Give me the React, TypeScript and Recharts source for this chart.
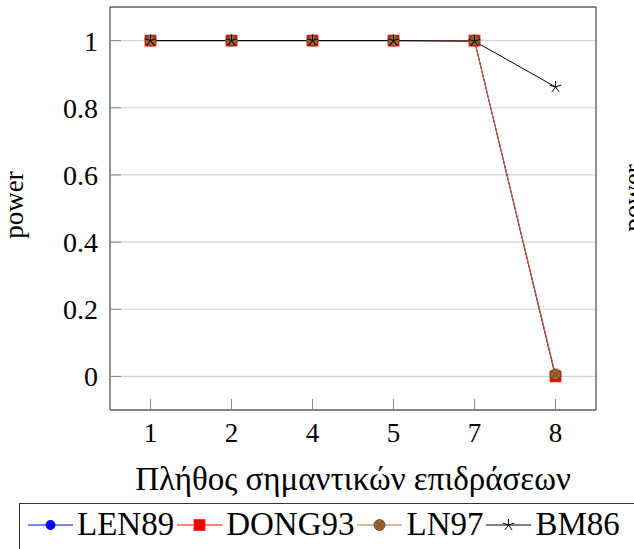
import { LineChart, Line, XAxis, YAxis, CartesianGrid } from 'recharts'

const categories = ['1', '2', '4', '5', '7', '8']
const len89 = [1, 1, 1, 1, 1, 0]
const dong93 = [1, 1, 1, 1, 1, 0]
const ln97 = [1, 1, 1, 1, 1, 0.006]
const bm86 = [1, 1, 1, 1, 0.998, 0.862]
const yTicks = [0, 0.2, 0.4, 0.6, 0.8, 1]

const data = categories.map((n, i) => ({
  n,
  LEN89: len89[i],
  DONG93: dong93[i],
  LN97: ln97[i],
  BM86: bm86[i],
}))

const SERIF = "'Liberation Serif', 'Times New Roman', serif"
const BROWN_LINE = '#a47446'

const BlueDot = ({ cx, cy }: any) => <circle cx={cx} cy={cy} r={4.5} fill='#0000ff' stroke='#0000ff' />

const RedSquare = ({ cx, cy }: any) => (
  <rect x={cx - 5.5} y={cy - 5.5} width={11} height={11} fill='#ee0000' stroke='#ff2020' strokeWidth={0.8} />
)

const Otimes = ({ cx, cy }: any) => {
  const r = 5.5
  const d = r * 0.7
  return (
    <g>
      <circle cx={cx} cy={cy} r={r} fill='#a0662f' stroke='#5b3a1c' strokeWidth={0.8} />
      <line x1={cx - d} y1={cy - d} x2={cx + d} y2={cy + d} stroke='#5b3a1c' strokeWidth={0.7} />
      <line x1={cx - d} y1={cy + d} x2={cx + d} y2={cy - d} stroke='#5b3a1c' strokeWidth={0.7} />
    </g>
  )
}

const Star = ({ cx, cy }: any) => {
  const r = 6
  const arms = [0, 1, 2, 3, 4].map((k) => {
    const a = (-90 + 72 * k) * Math.PI / 180
    return <line key={k} x1={cx} y1={cy} x2={cx + r * Math.cos(a)} y2={cy + r * Math.sin(a)} stroke='#000' strokeWidth={1} />
  })
  return <g>{arms}</g>
}

const legendItems = [
  { name: 'LEN89', color: '#0000ff', Marker: BlueDot },
  { name: 'DONG93', color: '#ff0000', Marker: RedSquare },
  { name: 'LN97', color: BROWN_LINE, Marker: Otimes },
  { name: 'BM86', color: '#000000', Marker: Star },
]

// category points sit in the middle of equal bands, like pgfplots symbolic coords
const xPad = { left: 40.5, right: 40.5 }

const App = () => {
  return (
    <div style={{ position: 'absolute', left: 0, top: 0, width: 634, height: 549, overflow: 'hidden', background: '#fff' }}>
      <LineChart width={634} height={549} data={data} margin={{ top: 6, right: 37, bottom: 0, left: 0 }}>
        <CartesianGrid horizontal vertical={false} stroke='#d4d4d4' strokeWidth={1.2} />
        <XAxis
          dataKey='n'
          height={139}
          padding={xPad}
          stroke='#222'
          tickLine={{ stroke: '#888' }}
          tickSize={-11}
          tickMargin={24}
          tick={{ fill: '#000', fontSize: 27, fontFamily: SERIF }}
        />
        <XAxis
          xAxisId='top'
          dataKey='n'
          orientation='top'
          height={1}
          padding={xPad}
          stroke='#222'
          tickLine={{ stroke: '#888' }}
          tickSize={-11}
          tick={false}
        />
        <YAxis
          width={110}
          domain={[-0.1, 1.1]}
          ticks={yTicks}
          stroke='#222'
          tickLine={{ stroke: '#888' }}
          tickSize={-11}
          tickMargin={23}
          tick={{ fill: '#000', fontSize: 28, fontFamily: SERIF }}
        />
        <YAxis
          yAxisId='right'
          orientation='right'
          width={1}
          domain={[-0.1, 1.1]}
          ticks={yTicks}
          stroke='#222'
          tickLine={{ stroke: '#888' }}
          tickSize={-11}
          tick={false}
        />
        <Line dataKey='LEN89' stroke='#0000ff' strokeWidth={1} isAnimationActive={false}
          dot={(p: any) => <BlueDot key={p.index} cx={p.cx} cy={p.cy} />} />
        <Line dataKey='DONG93' stroke='#ff0000' strokeWidth={1} isAnimationActive={false}
          dot={(p: any) => <RedSquare key={p.index} cx={p.cx} cy={p.cy} />} />
        <Line dataKey='LN97' stroke={BROWN_LINE} strokeWidth={1} isAnimationActive={false}
          dot={(p: any) => <Otimes key={p.index} cx={p.cx} cy={p.cy} />} />
        <Line dataKey='BM86' stroke='#000' strokeWidth={1} isAnimationActive={false}
          dot={(p: any) => <Star key={p.index} cx={p.cx} cy={p.cy} />} />
      </LineChart>

      <svg width={634} height={549} style={{ position: 'absolute', left: 0, top: 0, pointerEvents: 'none' }}>
        <text x={353} y={490} textAnchor='middle' fontSize={33} fontFamily={SERIF} fill='#000'>
          Πλήθος σημαντικών επιδράσεων
        </text>
        <text transform='translate(23,205) rotate(-90)' textAnchor='middle' fontSize={27} fontFamily={SERIF} fill='#000'>
          power
        </text>
        {/* y label of the neighbouring plot, clipped by the page edge */}
        <text transform='translate(642,198) rotate(-90)' textAnchor='middle' fontSize={27} fontFamily={SERIF} fill='#000'>
          power
        </text>
      </svg>

      <div style={{
        position: 'absolute', left: 19, top: 503, width: 700, height: 70,
        border: '1px solid #333', boxSizing: 'border-box', paddingLeft: 8, paddingTop: 1,
        display: 'flex', alignItems: 'flex-start', fontFamily: SERIF, fontSize: 33, lineHeight: '38px',
      }}>
        {legendItems.map(({ name, color, Marker }) => (
          <div key={name} style={{ display: 'flex', alignItems: 'flex-start', marginRight: 3 }}>
            <svg width={45} height={38} style={{ marginRight: 4 }}>
              <line x1={0} y1={20} x2={45} y2={20} stroke={color} strokeWidth={1} />
              <Marker cx={22.5} cy={20} />
            </svg>
            <span>{name}</span>
          </div>
        ))}
      </div>
    </div>
  )
}

export default App
